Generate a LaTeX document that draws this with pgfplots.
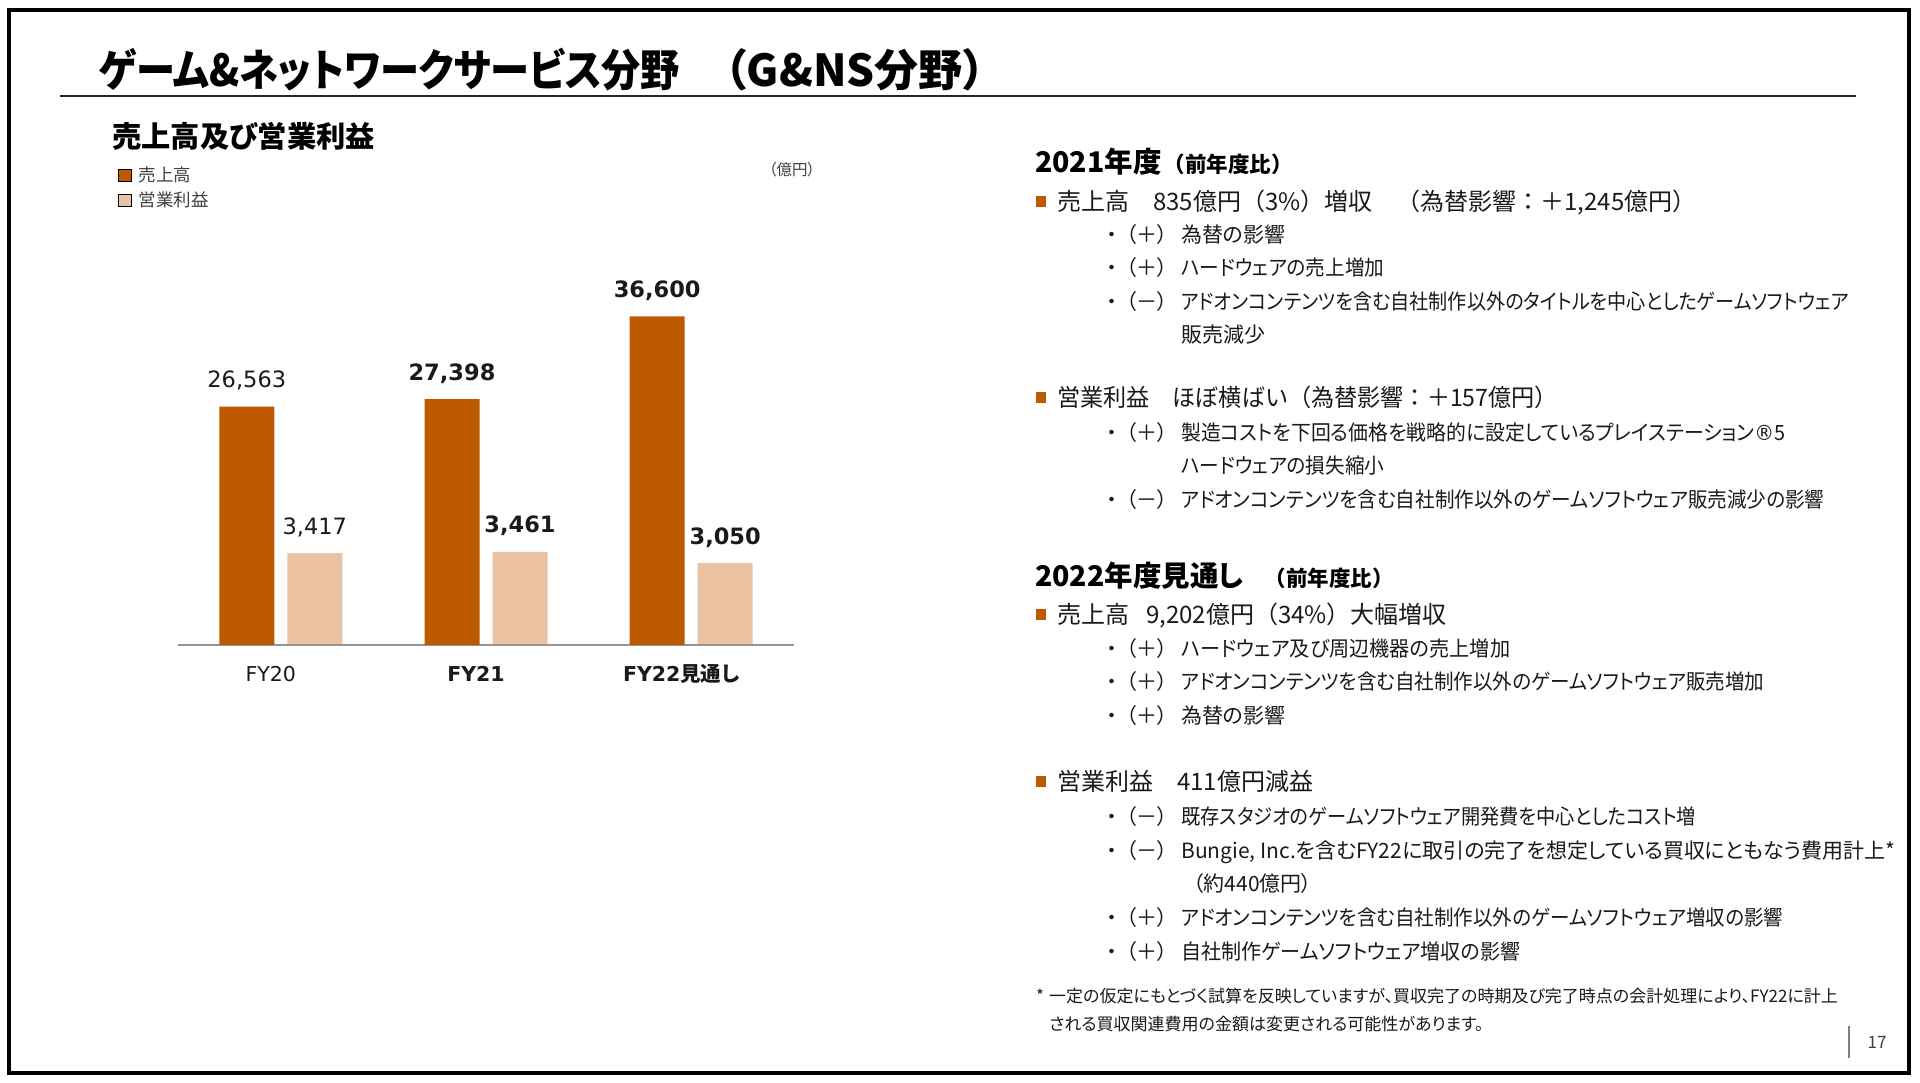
\documentclass[border=0pt]{standalone}
\usepackage{pgfplots}
\pgfplotsset{compat=1.18}
\usepackage{fontspec}
\setmainfont{DejaVu Sans}
\newfontfamily\jp[RawFeature=+palt]{Noto Sans CJK JP}
\newfontfamily\jpu{Noto Sans CJK JP}
\definecolor{salescol}{RGB}{189,90,0}
\definecolor{opcol}{RGB}{235,195,163}
\definecolor{txt}{RGB}{26,26,26}
\definecolor{leg}{RGB}{64,64,64}
\definecolor{axgray}{RGB}{150,150,150}
\newcommand{\fs}[1]{\fontsize{#1}{#1}\selectfont}
\newcommand{\sub}[4][1]{%
  \node[c] at (1112,1083-#2-7.5) {\jp\fs{21}・};
  \node[c] at (1147,1083-#2-7.5) {\jp\fs{21}（#3）};
  \node[t] at (1181,1083-#2-7.5) {\scalebox{#1}[1]{\jp\fs{21}#4}};}
\newcommand{\cont}[4][1]{\node[t] at (#2,1083-#3-7.5) {\scalebox{#1}[1]{\jp\fs{21}#4}};}
\newcommand{\mainline}[3][1]{%
  \fill[salescol] (1036,1083-#2+5.5) rectangle (1046,1083-#2-5.5);
  \node[t] at (1057,1083-#2-8.6) {\scalebox{#1}[1]{\jpu\fs{24}#3}};}
\begin{document}
\begin{tikzpicture}[x=1pt,y=1pt,
  t/.style={anchor=base west, inner sep=0pt, text=txt},
  c/.style={anchor=base, inner sep=0pt, text=txt}]
\useasboundingbox (0,0) rectangle (1920,1083);
\fill[white] (0,0) rectangle (1920,1083);
\draw[line width=4pt] (8.7,1083-10) rectangle (1909,1083-1073.5);
% title
\node[t, text=black] at (99,1083-87) {\jp\bfseries\fs{44}\scalebox{0.89}[1]{ゲーム\&ネットワークサービス分野}\hspace{45pt}（G\&NS分野）};
\draw[line width=2pt, color=black!85] (60,1083-96) -- (1856,1083-96);
\node[t, text=black] at (112,1083-148) {\jp\bfseries\fs{29.3}売上高及び営業利益};
\node[c, text=leg] at (792,1083-175.5) {\jp\fs{15.5}（億円）};

% operating profit axis (own scale)
\begin{axis}[
  at={(178.2pt,438pt)}, anchor=south west,
  scale only axis, width=615.6pt, height=395pt,
  xmin=-0.5, xmax=2.5, ymin=0, ymax=14700,
  axis lines=none, ticks=none,
  ybar, bar width=55pt,
  nodes near coords, point meta=explicit symbolic,
  every node near coord/.append style={anchor=base, yshift=19pt, font=\fs{22.5}, text=txt, inner sep=0pt},
  clip=false,
]
\addplot[fill=opcol, draw=none, bar shift=34pt] coordinates {(0,3417)[3,417] (1,3461)[\textbf{3,461}] (2,3050)[\textbf{3,050}]};
\end{axis}

% sales axis
\begin{axis}[
  at={(178.2pt,438pt)}, anchor=south west,
  scale only axis, width=615.6pt, height=395pt,
  xmin=-0.5, xmax=2.5, ymin=0, ymax=44000,
  axis x line*=bottom, axis y line=none,
  x axis line style={draw=axgray, line width=1.5pt, -},
  xtick={0,1,2}, xticklabels={FY20,\textbf{FY21},\textbf{FY22{\jp 見通し}}},
  major tick length=0pt,
  xticklabel style={anchor=base, yshift=-37pt, xshift=-10pt, font=\fs{20.5}, text=txt},
  ytick=\empty,
  ybar, bar width=55pt,
  nodes near coords, point meta=explicit symbolic,
  every node near coord/.append style={anchor=base, yshift=19pt, font=\fs{22.5}, text=txt, inner sep=0pt},
  clip=false,
  legend style={at={(-0.0975,1.211)}, anchor=north west, draw=none, fill=none, font=\jp\fs{17.5}, text=leg, row sep=9pt, inner sep=0pt, nodes={inner sep=0pt},
    /tikz/every odd column/.append style={column sep=7pt}},
  legend cell align=left,
  legend image code/.code={\draw[#1] (0pt,-6pt) rectangle (13pt,6pt);},
]
\addplot[fill=salescol, draw=none, bar shift=-34pt] coordinates {(0,26563)[26,563] (1,27398)[\textbf{27,398}] (2,36600)[\textbf{36,600}]};
\addlegendentry{売上高}
\addlegendimage{fill=opcol, draw=none}
\addlegendentry{営業利益}
\end{axis}

% right column
\node[t, text=black] at (1035,1083-173) {{\jp\bfseries\fs{28.5}2021年度}\hspace{2pt}{\jpu\bfseries\fs{21.5}（前年度比）}};
\mainline{202}{売上高　835億円（3\%）増収　（為替影響：＋1,245億円）}
\sub{235}{＋}{為替の影響}
\sub[0.935]{268}{＋}{ハードウェアの売上増加}
\sub[0.91]{302}{－}{アドオンコンテンツを含む自社制作以外のタイトルを中心としたゲームソフトウェア}
\cont{1181}{335}{販売減少}
\mainline[0.963]{398}{営業利益　ほぼ横ばい（為替影響：＋157億円）}
\sub[0.945]{433}{＋}{製造コストを下回る価格を戦略的に設定しているプレイステーション{\rmfamily ®}5}
\cont[0.935]{1181}{466}{ハードウェアの損失縮小}
\sub[0.933]{500}{－}{アドオンコンテンツを含む自社制作以外のゲームソフトウェア販売減少の影響}

\node[t, text=black] at (1035,1083-587) {{\jp\bfseries\fs{28.5}2022年度見通し}\hspace{21pt}{\jpu\bfseries\fs{21.5}（前年度比）}};
\mainline{615}{売上高\hspace{17pt}9,202億円（34\%）大幅増収}
\sub[0.96]{649}{＋}{ハードウェア及び周辺機器の売上増加}
\sub[0.93]{682}{＋}{アドオンコンテンツを含む自社制作以外のゲームソフトウェア販売増加}
\sub{716}{＋}{為替の影響}
\mainline{782}{営業利益　411億円減益}
\sub[0.915]{817}{－}{既存スタジオのゲームソフトウェア開発費を中心としたコスト増}
\sub{851}{－}{Bungie, Inc.を含むFY22に取引の完了を想定している買収にともなう費用計上*}
\cont{1193}{884}{（約440億円）}
\sub[0.93]{918}{＋}{アドオンコンテンツを含む自社制作以外のゲームソフトウェア増収の影響}
\sub[0.955]{952}{＋}{自社制作ゲームソフトウェア増収の影響}

\node[t] at (1036,1083-1003) {\jp\fs{17}*};
\node[t] at (1049,1083-1003) {\jp\fs{17}一定の仮定にもとづく試算を反映していますが、買収完了の時期及び完了時点の会計処理により、FY22に計上};
\node[t] at (1049,1083-1031) {\jp\fs{17}される買収関連費用の金額は変更される可能性があります。};

\draw[color=gray, line width=1.2pt] (1849,1083-1026) -- (1849,1083-1058);
\node[c, text=leg] at (1877,1083-1049) {\jp\fs{17}17};
\end{tikzpicture}
\end{document}
